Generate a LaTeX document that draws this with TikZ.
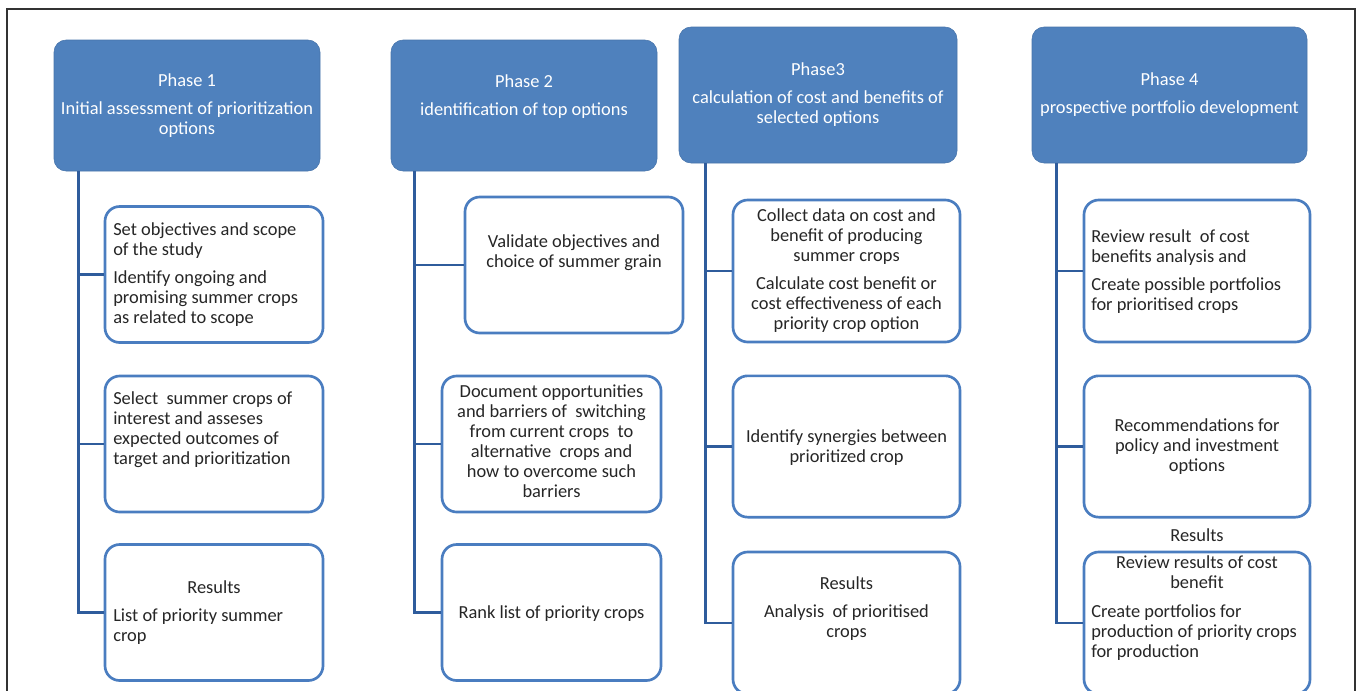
\documentclass[tikz,border=0pt]{standalone}
\usepackage{fontspec}
\setmainfont{Carlito}
\definecolor{phaseblue}{HTML}{4F81BD}
\definecolor{boxblue}{HTML}{4A7DC0}
\definecolor{linkblue}{HTML}{2F5C9C}
\definecolor{txtgray}{HTML}{262626}
\tikzstyle{phase} = [draw=phaseblue!90!black, fill=phaseblue, rounded corners=9pt,
    text=white, align=center, minimum height=98.25pt, font=\fontsize{13.8}{15}\selectfont]
\tikzstyle{stepbox} = [draw=boxblue, line width=2pt, fill=white, rounded corners=11pt,
    minimum width=163.5pt, minimum height=102pt]
\tikzstyle{txt} = [inner sep=0pt, text=txtgray, font=\fontsize{13.8}{15}\selectfont]
\tikzstyle{link} = [draw=linkblue, line width=2.2pt]

\begin{document}
\begin{tikzpicture}[x=0.75pt, y=-0.75pt]
\useasboundingbox (0,0) rectangle (1357,690);
\draw [gray!40!black, line width=1.1pt] (7,9) rectangle (1355,720);

% phase headers
\node [phase, minimum width=199.5pt] (ph1) at (187,105.5) {Phase 1\\[6pt]Initial assessment of prioritization\\options};
\node [phase, minimum width=199.5pt] (ph2) at (524,105.5) {Phase 2\\[6pt]identification of top options\\\mbox{}};
\node [phase, minimum width=208.5pt, minimum height=102pt] (ph3) at (818,95) {Phase3\\[6pt]calculation of cost and benefits of\\selected options};
\node [phase, minimum width=206.25pt, minimum height=102pt] (ph4) at (1169.5,95) {Phase 4\\[6pt]prospective portfolio development};

% phase 1
\node [stepbox] (b11) at (214,274.5) {};
\node [stepbox] (b12) at (214,444) {};
\node [stepbox] (b13) at (214,612.5) {};
\node [txt, align=left, anchor=north west] (t11) at (113,221) {\strut Set objectives and scope\\of the study\\[6pt]Identify ongoing and\\promising summer crops\\as related to scope};
\node [txt, align=left, anchor=north west] (t12) at (113,390) {\strut Select~ summer crops of\\interest and asseses\\expected outcomes of\\target and prioritization};
\node [txt, anchor=north] (t13a) at (214,579) {\strut Results};
\node [txt, align=left, anchor=north west] (t13b) at (113,607) {\strut List of priority summer\\crop};

% phase 2
\node [stepbox] (b21) at (574,265) {};
\node [stepbox, minimum width=164.25pt] (b22) at (551.5,444) {};
\node [stepbox, minimum width=164.25pt] (b23) at (551.5,612.5) {};
\node [txt, align=center, anchor=north] (t21) at (574,233) {\strut Validate objectives and\\choice of summer grain};
\node [txt, align=center, anchor=north] (t22) at (551.5,383) {\strut Document opportunities\\and barriers of~ switching\\from current crops~ to\\alternative~ crops and\\how to overcome such\\barriers};
\node [txt, anchor=north] (t23) at (551.5,604) {\strut Rank list of priority crops};

% phase 3
\node [stepbox, minimum width=170.25pt, minimum height=106.5pt] (b31) at (846.5,271) {};
\node [stepbox, minimum width=170.25pt, minimum height=106pt] (b32) at (846.5,446.5) {};
\node [stepbox, minimum width=170.25pt, minimum height=106.5pt] (b33) at (846.5,623) {};
\node [txt, align=center, anchor=north] (t31) at (846.5,207) {\strut Collect data on cost and\\benefit of producing\\summer crops\\[6pt]Calculate cost benefit or\\cost effectiveness of each\\priority crop option};
\node [txt, align=center, anchor=north] (t32) at (846.5,428) {\strut Identify synergies between\\prioritized crop};
\node [txt, align=center, anchor=north] (t33) at (846.5,575) {\strut Results\\[6pt]Analysis~ of prioritised\\crops};

% phase 4
\node [stepbox, minimum width=169.5pt, minimum height=106.5pt] (b41) at (1197,271) {};
\node [stepbox, minimum width=169.5pt, minimum height=106pt] (b42) at (1197,446.5) {};
\node [stepbox, minimum width=169.5pt, minimum height=106.5pt] (b43) at (1197,623) {};
\node [txt, align=left, anchor=north west] (t41) at (1091,228) {\strut Review result~ of cost\\benefits analysis and\\[6pt]Create possible portfolios\\for prioritised crops};
\node [txt, align=center, anchor=north] (t42) at (1197,417) {\strut Recommendations for\\policy and investment\\options};
\node [txt, anchor=north] (res4) at (1197,527) {\strut Results};
\node [txt, align=center, anchor=north] (t43a) at (1197,554) {\strut Review results of cost\\benefit};
\node [txt, align=left, anchor=north west] (t43b) at (1091,603) {\strut Create portfolios for\\production of priority crops\\for production};

% trunks and branches
\coordinate (p1top) at ([xshift=18.75pt]ph1.south west);
\coordinate (p2top) at ([xshift=18pt]ph2.south west);
\coordinate (p3top) at ([xshift=20.25pt]ph3.south west);
\coordinate (p4top) at ([xshift=18.75pt]ph4.south west);
\foreach \p in {1,2,3,4} {
  \draw [link] (p\p top) |- (b\p3.west);
  \draw [link] (p\p top |- b\p1.west) -- (b\p1.west);
  \draw [link] (p\p top |- b\p2.west) -- (b\p2.west);
}

\end{tikzpicture}
\end{document}
